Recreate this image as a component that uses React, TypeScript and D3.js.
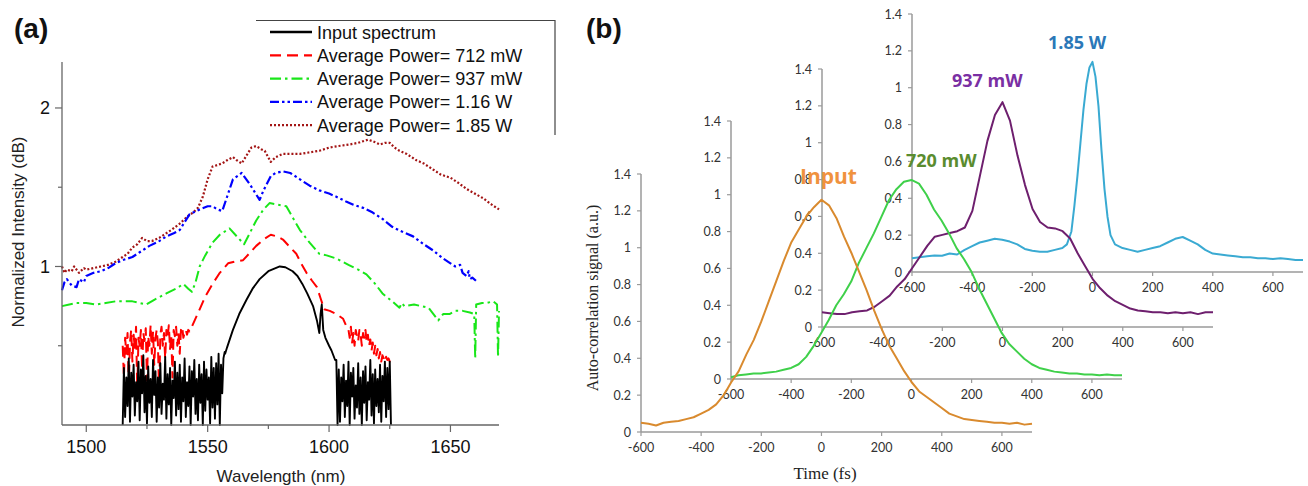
import React from "react";
import * as d3 from "d3";

// ---------- Panel (a) data ----------
const wlTicksMajor = [1500, 1550, 1600, 1650];
const wlTicksMinor = [1525, 1575, 1625];
const intTicksMajor = [1, 2];
const intTicksMinor = [0.5, 1.5];
const wlDomain = [1490, 1670];
const intDomain = [0, 2.29];

const legendLabels = [
  "Input spectrum",
  "Average Power= 712 mW",
  "Average Power= 937 mW",
  "Average Power= 1.16 W",
  "Average Power= 1.85 W",
];

// Input spectrum (black)
const blackNoiseLeftSpan = [1515, 1557];
const blackNoiseLeft = [
  0.0, 0.36, 0.05, 0.3, 0.12, 0.42, 0.02, 0.33, 0.18, 0.38, 0.06, 0.27, 0.15, 0.4, 0.03, 0.35, 0.2, 0.44,
  0.08, 0.31, 0.01, 0.37, 0.14, 0.29, 0.05, 0.41, 0.19, 0.34, 0.02, 0.3, 0.11, 0.39, 0.07, 0.26, 0.16, 0.43,
  0.04, 0.32, 0.13, 0.36, 0.0, 0.28, 0.17, 0.4, 0.06, 0.33, 0.1, 0.38, 0.02, 0.3, 0.15, 0.42, 0.05, 0.27,
  0.12, 0.37, 0.0, 0.34, 0.18, 0.41, 0.07, 0.29, 0.03, 0.38, 0.14, 0.32, 0.0, 0.4, 0.09, 0.35, 0.16, 0.3,
  0.01, 0.43, 0.11, 0.36, 0.04, 0.39, 0.13, 0.45, 0.0, 0.38, 0.2, 0.42, 0.46,
];
const blackMidWl = [1557.2, 1558, 1560.4, 1563, 1566, 1568.5, 1571.4, 1575, 1579.7, 1582, 1585, 1587, 1589, 1591, 1593.4, 1595, 1596, 1596.5, 1597, 1597.6, 1598.5, 1600, 1601, 1602.5];
const blackMidVal = [0.45, 0.49, 0.6, 0.7, 0.79, 0.86, 0.92, 0.97, 1.0, 0.995, 0.97, 0.94, 0.89, 0.83, 0.75, 0.66, 0.58, 0.7, 0.76, 0.6, 0.55, 0.5, 0.47, 0.41];
const blackNoiseRightSpan = [1603, 1625.5];
const blackNoiseRight = [
  0.41, 0.0, 0.35, 0.02, 0.3, 0.15, 0.38, 0.05, 0.28, 0.12, 0.4, 0.0, 0.33, 0.18, 0.36, 0.04, 0.25, 0.11,
  0.39, 0.07, 0.3, 0.0, 0.34, 0.14, 0.37, 0.03, 0.27, 0.16, 0.41, 0.06, 0.32, 0.01, 0.35, 0.12, 0.29, 0.08,
  0.38, 0.02, 0.31, 0.15, 0.4, 0.05, 0.36, 0.1, 0.4, 0.0,
];

// 712 mW (red dashed)
const redNoiseLeftSpan = [1515, 1543];
const redNoiseLeft = [
  0.5, 0.3, 0.55, 0.45, 0.58, 0.25, 0.52, 0.6, 0.4, 0.57, 0.48, 0.62, 0.22, 0.55, 0.5, 0.6, 0.35, 0.58, 0.53,
  0.61, 0.28, 0.56, 0.5, 0.63, 0.45, 0.59, 0.38, 0.55, 0.6, 0.52, 0.2, 0.57, 0.62, 0.5, 0.58, 0.42, 0.6, 0.55,
  0.63, 0.48, 0.57, 0.3, 0.6, 0.56, 0.62, 0.5, 0.58, 0.45, 0.6, 0.62, 0.55, 0.58, 0.6, 0.57, 0.6, 0.59, 0.6,
];
const redMidWl = [1543.5, 1546.7, 1549, 1552, 1555, 1558.4, 1561, 1564.6, 1567, 1570, 1573, 1576, 1578.5, 1581, 1584, 1586.5, 1588.5, 1590.7, 1593, 1595, 1596.5, 1598, 1600.3, 1603, 1605.8, 1607.5];
const redMidVal = [0.62, 0.73, 0.81, 0.89, 0.96, 1.02, 1.03, 1.04, 1.08, 1.13, 1.17, 1.2, 1.19, 1.17, 1.12, 1.08, 1.02, 0.96, 0.91, 0.87, 0.8, 0.73, 0.72, 0.7, 0.67, 0.61];
const redNoiseRightSpan = [1608, 1626];
const redNoiseRight = [
  0.6, 0.55, 0.62, 0.52, 0.58, 0.5, 0.6, 0.56, 0.53, 0.6, 0.57, 0.5, 0.58, 0.55, 0.6, 0.52, 0.57, 0.5, 0.54,
  0.47, 0.52, 0.45, 0.5, 0.44, 0.48, 0.42, 0.46, 0.4, 0.44, 0.42, 0.4, 0.43, 0.41, 0.42, 0.4, 0.42, 0.41,
];

// 937 mW (green dash-dot)
const greenWl = [1490, 1493, 1496, 1500, 1504, 1508, 1512, 1516, 1519, 1522, 1524.7, 1528, 1533, 1537, 1540, 1542, 1543.5, 1545, 1546.7, 1549, 1552, 1555, 1559, 1562, 1565, 1567, 1570, 1573, 1575.5, 1579, 1582.4, 1585, 1588, 1592, 1596, 1599, 1603, 1608, 1612, 1615.4, 1619, 1622, 1626, 1629, 1630, 1631, 1635, 1638, 1641, 1643, 1645, 1647, 1649.6, 1652, 1655, 1658, 1659.8, 1660.2, 1660.6, 1663, 1665, 1667.6, 1669.2, 1669.6, 1670];
const greenVal = [0.75, 0.76, 0.77, 0.77, 0.76, 0.77, 0.78, 0.78, 0.78, 0.77, 0.76, 0.79, 0.83, 0.86, 0.89, 0.86, 0.84, 0.9, 1.0, 1.07, 1.15, 1.2, 1.24, 1.19, 1.14, 1.2, 1.29, 1.36, 1.4, 1.39, 1.38, 1.31, 1.23, 1.15, 1.08, 1.07, 1.05, 1.01, 0.98, 0.95, 0.89, 0.83, 0.78, 0.74, 0.77, 0.75, 0.76, 0.75, 0.74, 0.7, 0.66, 0.7, 0.7, 0.72, 0.72, 0.71, 0.7, 0.42, 0.76, 0.77, 0.77, 0.78, 0.76, 0.43, 0.72];

// 1.16 W (blue dash-dot-dot)
const blueWl = [1490, 1491, 1492, 1494, 1496, 1497, 1499, 1500, 1503, 1506, 1509, 1512, 1515, 1519, 1522, 1526, 1530, 1533, 1536, 1538.5, 1540.5, 1542.6, 1546.7, 1550, 1552, 1554, 1556, 1558, 1560.4, 1564, 1567.3, 1571.4, 1573, 1576, 1578, 1581, 1584, 1588, 1592, 1596, 1600, 1603, 1607, 1610, 1614, 1618, 1622, 1626, 1630, 1634.6, 1639, 1643, 1647, 1650, 1652, 1654, 1655, 1656.6, 1657.5, 1658, 1659, 1660.5];
const blueVal = [0.85, 0.9, 0.92, 0.88, 0.87, 0.92, 0.9, 0.94, 0.96, 0.97, 0.99, 1.02, 1.04, 1.06, 1.09, 1.13, 1.16, 1.19, 1.21, 1.23, 1.28, 1.33, 1.36, 1.38, 1.38, 1.36, 1.35, 1.44, 1.55, 1.59, 1.52, 1.42, 1.48, 1.57, 1.59, 1.6, 1.59, 1.55, 1.51, 1.48, 1.46, 1.44, 1.41, 1.39, 1.37, 1.34, 1.3, 1.25, 1.22, 1.19, 1.14, 1.1, 1.05, 1.02, 1.0, 1.01, 0.96, 0.94, 0.97, 0.92, 0.93, 0.91];

// 1.85 W (dark red dotted)
const maroonWl = [1490, 1491, 1492, 1494, 1495, 1497, 1499, 1500, 1503, 1506, 1509, 1512, 1515, 1517, 1519, 1521, 1523, 1525, 1527, 1530, 1533, 1535, 1538.5, 1542, 1544, 1546, 1548, 1550, 1552, 1554, 1556, 1558, 1560.4, 1562, 1564, 1566, 1568, 1570, 1572, 1573.5, 1576, 1578, 1581, 1585, 1588, 1592, 1596, 1600, 1604, 1608.5, 1612, 1616, 1618, 1621, 1623, 1625, 1627, 1629, 1632, 1636, 1639, 1643, 1646, 1650, 1653, 1656.6, 1660, 1663.5, 1667, 1670];
const maroonVal = [1.0, 0.96, 0.98, 0.97, 1.0, 0.96, 0.99, 0.98, 0.99, 1.0, 1.01, 1.03, 1.06, 1.08, 1.12, 1.14, 1.18, 1.16, 1.16, 1.18, 1.21, 1.23, 1.27, 1.32, 1.34, 1.37, 1.44, 1.55, 1.63, 1.64, 1.65, 1.67, 1.69, 1.67, 1.65, 1.7, 1.75, 1.76, 1.74, 1.73, 1.66, 1.69, 1.71, 1.71, 1.71, 1.72, 1.73, 1.75, 1.76, 1.77, 1.78, 1.8, 1.79, 1.77, 1.78, 1.78, 1.75, 1.73, 1.71, 1.67, 1.65, 1.61, 1.58, 1.56, 1.53, 1.49, 1.46, 1.43, 1.39, 1.36];

// ---------- Panel (b) data ----------
const timeTicks = [-600, -400, -200, 0, 200, 400, 600];
const signalTicks = [0, 0.2, 0.4, 0.6, 0.8, 1, 1.2, 1.4];
const timeDomain = [-600, 700];
const signalDomain = [0, 1.4];
const acLabels = ["Input", "720 mW", "937 mW", "1.85 W"];

const gridTimes = d3.range(-600, 701, 25);
const inputAC = [
  0.05, 0.045, 0.035, 0.05, 0.055, 0.06, 0.07, 0.08, 0.1, 0.12, 0.15, 0.2, 0.27, 0.33, 0.42, 0.5, 0.6, 0.71,
  0.82, 0.93, 1.03, 1.1, 1.17, 1.22, 1.26, 1.23, 1.16, 1.06, 0.97, 0.87, 0.77, 0.66, 0.56, 0.47, 0.4, 0.33,
  0.27, 0.22, 0.19, 0.16, 0.13, 0.1, 0.085, 0.07, 0.065, 0.06, 0.055, 0.05, 0.05, 0.045, 0.05, 0.04, 0.045,
];
const ac720 = [
  0.01, 0.02, 0.025, 0.03, 0.03, 0.035, 0.04, 0.05, 0.06, 0.08, 0.12, 0.18, 0.25, 0.32, 0.4, 0.46, 0.53, 0.63,
  0.71, 0.79, 0.88, 0.97, 1.03, 1.07, 1.08, 1.06, 1.0, 0.92, 0.86, 0.79, 0.71, 0.65, 0.58, 0.49, 0.41, 0.33,
  0.25, 0.19, 0.15, 0.11, 0.08, 0.06, 0.05, 0.04, 0.035, 0.03, 0.03, 0.025, 0.025, 0.02, 0.025, 0.02, 0.02,
];
const ac937 = [
  0.08, 0.075, 0.07, 0.07, 0.08, 0.085, 0.09, 0.11, 0.14, 0.17, 0.22, 0.26, 0.32, 0.38, 0.44, 0.49, 0.5, 0.51,
  0.52, 0.54, 0.63, 0.82, 1.01, 1.15, 1.22, 1.12, 0.93, 0.77, 0.64, 0.57, 0.54, 0.535, 0.52, 0.48, 0.4, 0.33,
  0.26, 0.21, 0.17, 0.14, 0.12, 0.1, 0.09, 0.085, 0.08, 0.08, 0.075, 0.08, 0.075, 0.08, 0.07, 0.08, 0.08,
];
const ac185Times = [
  -600, -575, -550, -525, -500, -475, -450, -425, -400, -375, -350, -325, -300, -275, -250, -225, -200, -175,
  -150, -125, -100, -85, -70, -60, -50, -40, -30, -20, -10, 0, 10, 20, 30, 40, 50, 60, 75, 100, 125, 150, 175,
  200, 225, 250, 275, 300, 325, 350, 375, 400, 425, 450, 475, 500, 525, 550, 575, 600, 625, 650, 675, 700,
];
const ac185 = [
  0.075, 0.08, 0.085, 0.09, 0.088, 0.1, 0.095, 0.12, 0.14, 0.16, 0.17, 0.18, 0.175, 0.165, 0.15, 0.125, 0.115,
  0.11, 0.11, 0.12, 0.13, 0.15, 0.22, 0.36, 0.52, 0.7, 0.88, 1.02, 1.11, 1.14, 1.06, 0.9, 0.66, 0.45, 0.3, 0.2,
  0.15, 0.13, 0.12, 0.11, 0.12, 0.13, 0.14, 0.16, 0.18, 0.19, 0.17, 0.15, 0.12, 0.1, 0.095, 0.09, 0.085, 0.08,
  0.08, 0.075, 0.075, 0.07, 0.075, 0.07, 0.065, 0.065,
];

type P = [number, number];
const spread = (span: number[], vals: number[]): P[] =>
  vals.map((v, i) => [span[0] + (i * (span[1] - span[0])) / (vals.length - 1), v]);
const zip = (xs: number[], ys: number[]): P[] => xs.map((x, i) => [x, ys[i]]);

export default function App() {
  // ----- panel (a) -----
  const xA = d3.scaleLinear().domain(wlDomain).range([62, 499]);
  const yA = d3.scaleLinear().domain(intDomain).range([425, 62]);
  const lineA = d3.line<P>().x((d) => xA(d[0])).y((d) => yA(d[1]));

  const seriesA = [
    { pts: [...spread(blackNoiseLeftSpan, blackNoiseLeft), ...zip(blackMidWl, blackMidVal), ...spread(blackNoiseRightSpan, blackNoiseRight)], color: "#000000", dash: "none", w: 1.9 },
    { pts: [...spread(redNoiseLeftSpan, redNoiseLeft), ...zip(redMidWl, redMidVal), ...spread(redNoiseRightSpan, redNoiseRight)], color: "#ff0000", dash: "11,6", w: 2 },
    { pts: zip(greenWl, greenVal), color: "#19e619", dash: "11,4,2.5,4", w: 2 },
    { pts: zip(blueWl, blueVal), color: "#0000ff", dash: "9,3,2.5,3,2.5,3", w: 2.2 },
    { pts: zip(maroonWl, maroonVal), color: "#a31515", dash: "2,2", w: 2.2 },
  ];
  const drawOrder = [4, 3, 2, 1, 0];

  // ----- panel (b) -----
  const charts = [
    { ox: 641, oy: 432, t: gridTimes, v: inputAC, color: "#d98a2e" },
    { ox: 731, oy: 379, t: gridTimes, v: ac720, color: "#3fd04a" },
    { ox: 822, oy: 327, t: gridTimes, v: ac937, color: "#6e1f6e" },
    { ox: 912, oy: 272, t: ac185Times, v: ac185, color: "#3aaad2" },
  ];
  const labelStyles = [
    { x: 800, y: 184, color: "#f0923e", size: 21 },
    { x: 906, y: 167, color: "#5a8c2f", size: 18 },
    { x: 952, y: 87, color: "#7a2fa3", size: 18 },
    { x: 1048, y: 49, color: "#2b78b8", size: 18 },
  ];
  const axisGray = "#9a9a9a";
  const tickFont = "Lato, 'Open Sans', sans-serif";

  return (
    <div style={{ position: "absolute", left: 0, top: 0 }}>
      <svg width={1308} height={486} style={{ display: "block", background: "#ffffff" }}>
        <rect x={0} y={0} width={1308} height={486} fill="#ffffff" />
        {/* ================= Panel (a) ================= */}
        <g fontFamily="'Liberation Sans', Arial, sans-serif">
          <text x={14} y={38} fontSize={28} fontWeight="bold" fill="#111">(a)</text>
          {drawOrder.map((i) => (
            <path key={i} d={lineA(seriesA[i].pts) || ""} fill="none" stroke={seriesA[i].color} strokeWidth={seriesA[i].w} strokeDasharray={seriesA[i].dash} strokeLinejoin="round" />
          ))}
          <line x1={xA(wlDomain[0])} x2={xA(wlDomain[0])} y1={yA(intDomain[0])} y2={yA(intDomain[1])} stroke="#666" strokeWidth={1.3} />
          <line x1={xA(wlDomain[0])} x2={xA(wlDomain[1])} y1={yA(intDomain[0])} y2={yA(intDomain[0])} stroke="#666" strokeWidth={1.3} />
          {wlTicksMajor.map((t) => (
            <g key={"xm" + t}>
              <line x1={xA(t)} x2={xA(t)} y1={yA(0)} y2={yA(0) + 7} stroke="#666" strokeWidth={1.2} />
              <text x={xA(t)} y={453} fontSize={18} textAnchor="middle" fill="#111">{t}</text>
            </g>
          ))}
          {wlTicksMinor.map((t) => (
            <line key={"xn" + t} x1={xA(t)} x2={xA(t)} y1={yA(0)} y2={yA(0) + 4} stroke="#666" strokeWidth={1.2} />
          ))}
          {intTicksMajor.map((t) => (
            <g key={"ym" + t}>
              <line x1={62} x2={55} y1={yA(t)} y2={yA(t)} stroke="#666" strokeWidth={1.2} />
              <text x={50} y={yA(t) + 6.5} fontSize={18} textAnchor="end" fill="#111">{t}</text>
            </g>
          ))}
          {intTicksMinor.map((t) => (
            <line key={"yn" + t} x1={62} x2={58} y1={yA(t)} y2={yA(t)} stroke="#666" strokeWidth={1.2} />
          ))}
          <text transform="translate(24,232) rotate(-90)" fontSize={17} textAnchor="middle" fill="#222">Normalized Intensity (dB)</text>
          <text x={281} y={482} fontSize={17} textAnchor="middle" fill="#222">Wavelength (nm)</text>
          <path d="M256,20.5 H555 V135" fill="none" stroke="#444" strokeWidth={1.2} />
          {legendLabels.map((lab, i) => {
            const y = 32 + i * 23.3;
            const s = seriesA[i];
            return (
              <g key={lab}>
                <line x1={270} x2={312} y1={y} y2={y} stroke={s.color} strokeWidth={i === 0 ? 2.5 : 2.2} strokeDasharray={s.dash} />
                <text x={317} y={y + 6.5} fontSize={18} fill="#111">{lab}</text>
              </g>
            );
          })}
        </g>

        {/* ================= Panel (b) ================= */}
        <text x={586} y={38} fontSize={28} fontWeight="bold" fill="#111" fontFamily="'Liberation Sans', Arial, sans-serif">(b)</text>
        {[3, 2, 1, 0].map((ci) => {
          const c = charts[ci];
          const x = d3.scaleLinear().domain(timeDomain).range([c.ox, c.ox + 391]);
          const y = d3.scaleLinear().domain(signalDomain).range([c.oy, c.oy - 258]);
          const line = d3.line<P>().x((d) => x(d[0])).y((d) => y(d[1]));
          return (
            <g key={"chart" + ci}>
              <line x1={x(-600)} x2={x(700)} y1={y(0)} y2={y(0)} stroke={axisGray} strokeWidth={1.5} />
              <line x1={x(-600)} x2={x(-600)} y1={y(0)} y2={y(1.4)} stroke={axisGray} strokeWidth={1.5} />
              {timeTicks.map((t) => (
                <g key={"t" + t}>
                  <line x1={x(t)} x2={x(t)} y1={y(0)} y2={y(0) + 4} stroke={axisGray} strokeWidth={1.2} />
                  <text x={x(t)} y={y(0) + 20} fontSize={12.5} textAnchor="middle" fill="#333" fontFamily={tickFont}>{t}</text>
                </g>
              ))}
              {signalTicks.map((s) => (
                <g key={"s" + s}>
                  <line x1={x(-600) - 4} x2={x(-600)} y1={y(s)} y2={y(s)} stroke={axisGray} strokeWidth={1.2} />
                  <text x={x(-600) - 10} y={y(s) + 4.5} fontSize={12.5} textAnchor="end" fill="#333" fontFamily={tickFont}>{s}</text>
                </g>
              ))}
              <path d={line(zip(c.t, c.v)) || ""} fill="none" stroke={c.color} strokeWidth={2} strokeLinejoin="round" />
            </g>
          );
        })}
        <text transform="translate(598,298) rotate(-90)" fontSize={16} textAnchor="middle" fill="#222" fontFamily="'Liberation Serif', 'Times New Roman', serif">Auto-correlation signal (a.u.)</text>
        <text x={825} y={479} fontSize={17} textAnchor="middle" fill="#222" fontFamily="'Liberation Serif', 'Times New Roman', serif">Time (fs)</text>
        {acLabels.map((lab, i) => (
          <text key={lab} x={labelStyles[i].x} y={labelStyles[i].y} fontSize={labelStyles[i].size} fontWeight="bold" fill={labelStyles[i].color} fontFamily="'Open Sans', Lato, sans-serif">{lab}</text>
        ))}
      </svg>
    </div>
  );
}
